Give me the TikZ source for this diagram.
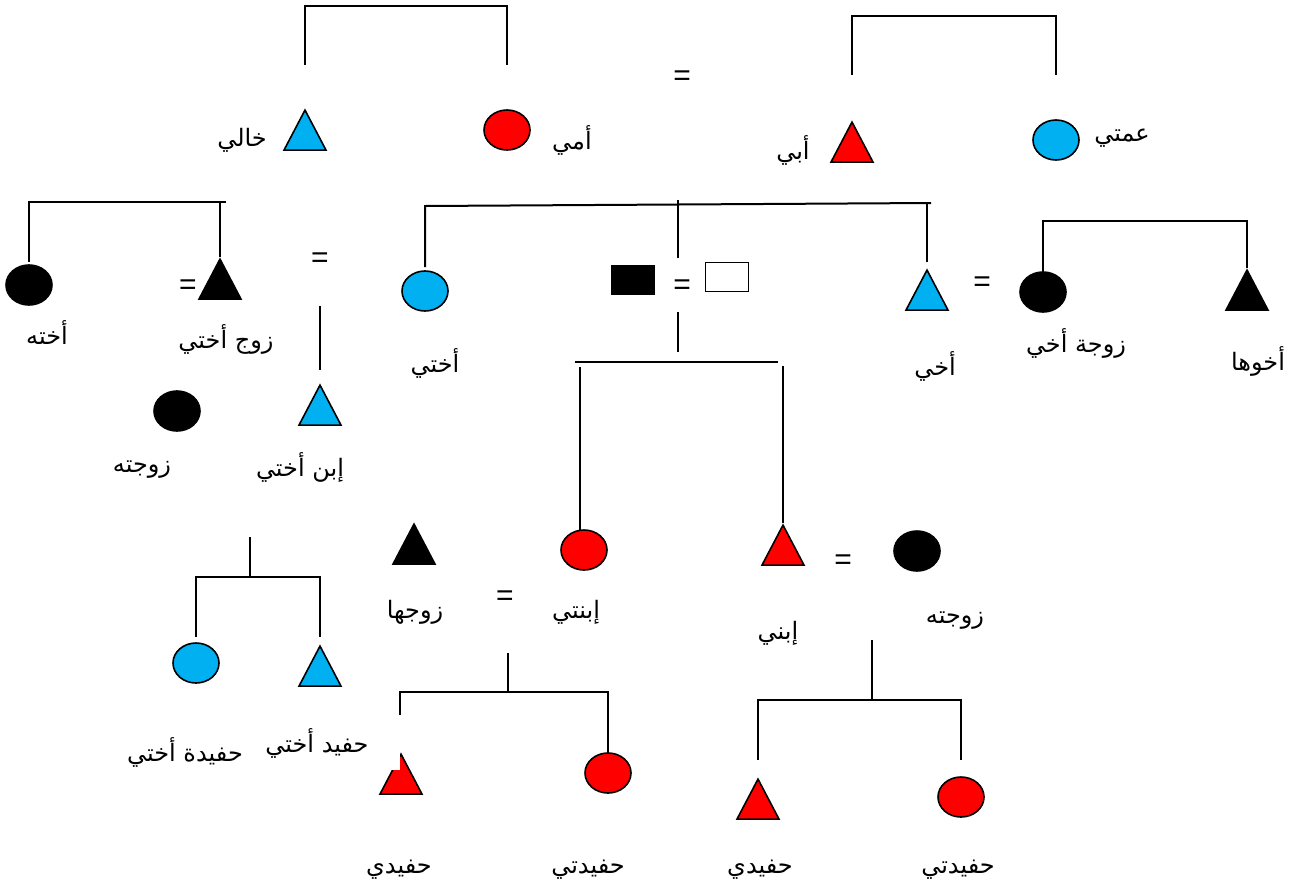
\documentclass[tikz,border=0pt]{standalone}
\usepackage{fontspec}
\setmainfont{Liberation Sans}
\newfontfamily\arabicfont[Script=Arabic]{DejaVu Sans}
\TeXXeTstate=1
\usetikzlibrary{shapes.geometric}
\definecolor{kcyan}{HTML}{00B0F0}
\definecolor{kred}{HTML}{FF0000}
\tikzset{
  circ/.style={ellipse, draw, line width=1.6pt, minimum width=46pt, minimum height=40pt, inner sep=0pt, fill=#1},
  tri/.style={isosceles triangle, shape border rotate=90, isosceles triangle stretches, draw, line width=1.6pt, minimum width=42pt, minimum height=40pt, inner sep=0pt, fill=#1, anchor=apex},
  box/.style={rectangle, draw, line width=1.6pt, minimum width=43pt, minimum height=29pt, inner sep=0pt, fill=#1},
  lbl/.style={font=\arabicfont\fontsize{24}{28}\selectfont, inner sep=0pt},
  eq/.style={font=\fontsize{30}{32}\selectfont, inner sep=0pt},
  link/.style={line width=2pt}
}
\begin{document}
\begin{tikzpicture}[x=1pt,y=-1pt]
\useasboundingbox (0,0) rectangle (1303,892);
% ---- top row
\node[tri=kcyan] (khali) at (305,108) {};
\node[lbl] (lkhali) at (242,140) {\beginR خالي\endR};
\node[circ=kred] (ommi) at (507,130) {};
\node[lbl] (lommi) at (572,140) {\beginR أمي\endR};
\node[eq] (eq1) at (682,78) {=};
\node[tri=kred] (abi) at (852,120) {};
\node[lbl] (labi) at (793,150) {\beginR أبي\endR};
\node[circ=kcyan] (amti) at (1056,140) {};
\node[lbl] (lamti) at (1122,138) {\beginR عمتي\endR};
\draw[link] (khali.apex |- 0,65) -- (khali.apex |- 0,6) -- (ommi.north |- 0,6) -- (ommi.north |- 0,65);
\draw[link] (abi.apex |- 0,75) -- (abi.apex |- 0,16) -- (amti.north |- 0,16) -- (amti.north |- 0,75);
% ---- left family
\node[circ=black] (ukhtuh) at (29,285) {};
\node[lbl] (lukhtuh) at (47,333) {\beginR أخته\endR};
\node[tri=black] (zawjukhti) at (220,257) {};
\node[eq] (eq2) at (188,287) {=};
\node[lbl] (lzawjukhti) at (226,339) {\beginR زوج أختي\endR};
\node[eq] (eq3) at (320,260) {=};
\node[tri=kcyan] (ibnukhti) at (320,383) {};
\node[lbl] (libnukhti) at (300,467) {\beginR إبن أختي\endR};
\node[circ=black] (zawjatuh) at (177,411) {};
\node[lbl] (lzawjatuh) at (142,470) {\beginR زوجته\endR};
\draw[link] (ukhtuh.north |- 0,262) -- (ukhtuh.north |- 0,202) -- (226,202);
\draw[link] (zawjukhti.apex) -- (zawjukhti.apex |- 0,202);
\draw[link] (ibnukhti.apex |- 0,306) -- (ibnukhti.apex |- 0,370);
% ---- siblings
\node[circ=kcyan] (ukhti) at (425,291) {};
\node[lbl] (lukhti) at (435,363) {\beginR أختي\endR};
\node[box=black] (bbox) at (633,280) {};
\node[eq] (eq4) at (682,287) {=};
\node[box=white] (wbox) at (727,277) {};
\node[tri=kcyan] (akhi) at (927,268) {};
\node[lbl] (lakhi) at (935,366) {\beginR أخي\endR};
\node[eq] (eq5) at (982,284) {=};
\node[circ=black] (zawjatakhi) at (1043,292) {};
\node[lbl] (lzawjatakhi) at (1076,343) {\beginR زوجة أخي\endR};
\node[tri=black] (akhuha) at (1247,268) {};
\node[lbl] (lakhuha) at (1258,361) {\beginR أخوها\endR};
\coordinate (sibtop) at (678,200);
\draw[link] (ukhti.north |- 0,267) -- (ukhti.north |- 0,206) -- (931,203);
\draw[link] (sibtop) -- (sibtop |- 0,258);
\draw[link] (akhi.apex |- 0,202) -- (akhi.apex |- 0,262);
\draw[link] (zawjatakhi.north |- 0,272) -- (zawjatakhi.north |- 0,221) -- (akhuha.apex |- 0,221) -- (akhuha.apex);
% ---- children
\draw[link] (bbox.east -| sibtop) ++(0,32) coordinate (ctop) -- (ctop |- 0,352);
\node[tri=black] (zawjuha) at (414,522) {};
\node[lbl] (lzawjuha) at (415,612) {\beginR زوجها\endR};
\node[eq] (eq6) at (505,598) {=};
\node[circ=kred] (ibnati) at (584,550) {};
\node[lbl] (libnati) at (576,612) {\beginR إبنتي\endR};
\node[tri=kred] (ibni) at (783,523) {};
\node[lbl] (libni) at (778,633) {\beginR إبني\endR};
\node[eq] (eq7) at (843,562) {=};
\node[circ=black] (zawjatuh2) at (917,551) {};
\node[lbl] (lzawjatuh2) at (955,621) {\beginR زوجته\endR};
\draw[link] (575,362) -- (778,362);
\draw[link] (580,367) -- (580,531);
\draw[link] (ibni.apex |- 0,366) -- (ibni.apex);
% ---- sister's grandchildren
\node[circ=kcyan] (hafidaukhti) at (196,663) {};
\node[lbl] (lhafidaukhti) at (185,752) {\beginR حفيدة أختي\endR};
\node[tri=kcyan] (hafidukhti) at (320,644) {};
\node[lbl] (lhafidukhti) at (317,743) {\beginR حفيد أختي\endR};
\draw[link] (250,537) -- (250,577);
\draw[link] (hafidaukhti.north |- 0,637) -- (hafidaukhti.north |- 0,577) -- (hafidukhti.apex |- 0,577) -- (hafidukhti.apex |- 0,637);
% ---- daughter's children
\node[tri=kred] (hafid1) at (401,752) {};
\node[lbl] (lhafid1) at (399,870) {\beginR حفيدي\endR};
\node[circ=kred] (hafida1) at (608,773) {};
\node[lbl] (lhafida1) at (588,870) {\beginR حفيدتي\endR};
\fill[white] (380,715) rectangle (400,770);
\draw[link] (508,653) -- (508,692);
\draw[link] (400,715) -- (400,692) -- (hafida1.north |- 0,692) -- (hafida1.north |- 0,753);
% ---- son's children
\node[tri=kred] (hafid2) at (758,777) {};
\node[lbl] (lhafid2) at (760,870) {\beginR حفيدي\endR};
\node[circ=kred] (hafida2) at (961,797) {};
\node[lbl] (lhafida2) at (958,870) {\beginR حفيدتي\endR};
\draw[link] (872,640) -- (872,700);
\draw[link] (hafid2.apex |- 0,760) -- (hafid2.apex |- 0,700) -- (hafida2.north |- 0,700) -- (hafida2.north |- 0,760);
\end{tikzpicture}
\end{document}
